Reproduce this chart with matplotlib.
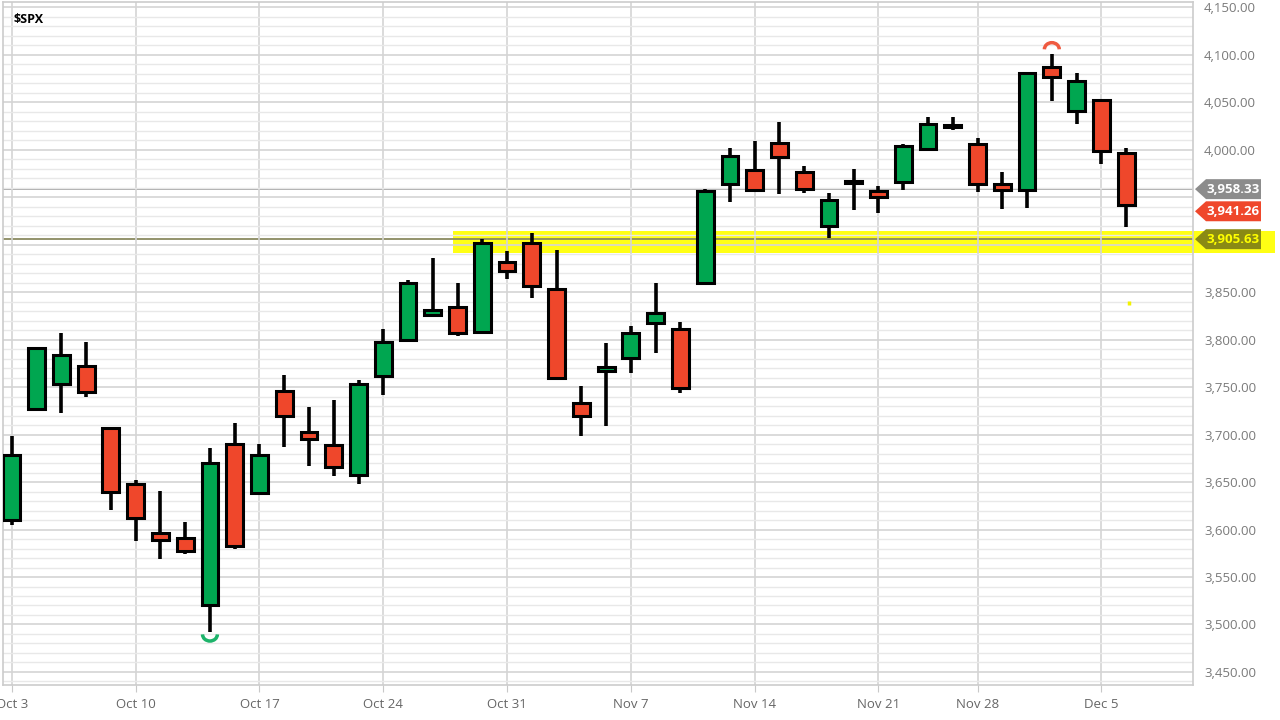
import matplotlib
matplotlib.use("Agg")
import matplotlib.pyplot as plt
import matplotlib.transforms as mtransforms
from matplotlib.patches import Arc, Polygon, Rectangle
from matplotlib.ticker import FuncFormatter, MultipleLocator

plt.rcParams["font.family"] = ["Open Sans", "DejaVu Sans"]

# daily candles, Oct 3 - Dec 6 2022
dates = ["Oct 3", "Oct 4", "Oct 5", "Oct 6", "Oct 7",
         "Oct 10", "Oct 11", "Oct 12", "Oct 13", "Oct 14",
         "Oct 17", "Oct 18", "Oct 19", "Oct 20", "Oct 21",
         "Oct 24", "Oct 25", "Oct 26", "Oct 27", "Oct 28",
         "Oct 31", "Nov 1", "Nov 2", "Nov 3", "Nov 4",
         "Nov 7", "Nov 8", "Nov 9", "Nov 10", "Nov 11",
         "Nov 14", "Nov 15", "Nov 16", "Nov 17", "Nov 18",
         "Nov 21", "Nov 22", "Nov 23", "Nov 25",
         "Nov 28", "Nov 29", "Nov 30", "Dec 1", "Dec 2",
         "Dec 5", "Dec 6"]
opens = [3609.8, 3726.5, 3753.3, 3772.0, 3706.7,
         3647.5, 3595.9, 3590.8, 3520.4, 3690.4,
         3638.7, 3746.3, 3703.1, 3689.1, 3657.1,
         3762.0, 3799.4, 3826.0, 3834.7, 3808.3,
         3881.9, 3901.8, 3852.9, 3733.3, 3767.0,
         3780.7, 3817.0, 3810.9, 3859.9, 3963.7,
         3978.0, 4006.4, 3976.8, 3919.3, 3966.4,
         3956.2, 3965.5, 4000.3, 4023.3,
         4005.4, 3964.2, 3957.2, 4087.1, 4040.2,
         4052.0, 3996.6]
highs = [3698.4, 3791.9, 3806.9, 3797.9, 3706.7,
         3652.2, 3640.7, 3608.3, 3685.4, 3712.0,
         3689.7, 3762.8, 3728.6, 3736.0, 3757.9,
         3810.7, 3862.9, 3886.2, 3860.0, 3905.4,
         3893.7, 3911.8, 3894.4, 3750.6, 3796.3,
         3814.0, 3859.4, 3818.2, 3958.3, 4001.5,
         4009.0, 4028.8, 3983.1, 3954.3, 3979.9,
         3962.0, 4005.9, 4033.8, 4034.0,
         4012.3, 3976.8, 4080.1, 4100.5, 4080.5,
         4052.5, 4001.5]
lows = [3604.9, 3726.5, 3722.7, 3739.2, 3620.7,
        3588.1, 3568.5, 3573.9, 3491.6, 3579.7,
        3638.7, 3686.5, 3666.5, 3656.4, 3647.4,
        3741.7, 3799.4, 3824.1, 3803.8, 3808.3,
        3863.2, 3843.8, 3758.7, 3698.2, 3708.8,
        3764.7, 3786.3, 3744.2, 3859.9, 3944.8,
        3956.4, 3953.2, 3954.3, 3906.5, 3936.0,
        3933.3, 3956.9, 3998.7, 4020.8,
        3955.8, 3937.7, 3938.6, 4050.9, 4026.6,
        3984.5, 3918.4]
closes = [3678.4, 3790.9, 3783.3, 3744.5, 3639.7,
          3612.4, 3588.8, 3577.0, 3669.9, 3583.1,
          3678.0, 3720.0, 3695.2, 3665.8, 3752.8,
          3797.3, 3859.1, 3830.6, 3807.3, 3901.1,
          3872.0, 3856.1, 3759.7, 3719.9, 3770.6,
          3806.8, 3828.1, 3748.6, 3956.4, 3992.9,
          3957.3, 3991.7, 3958.8, 3946.6, 3965.3,
          3949.9, 4003.6, 4027.3, 4026.1,
          3963.9, 3957.6, 4080.1, 4076.6, 4071.7,
          3998.8, 3941.3]

week_labels = ["Oct 3", "Oct 10", "Oct 17", "Oct 24", "Oct 31",
               "Nov 7", "Nov 14", "Nov 21", "Nov 28", "Dec 5"]

prev_high = 3958.33
last_close = 3941.26
support = 3905.63
# tag centres on the price scale (the last-close tag is pushed down a bit)
tag_centres = [prev_high, 3935.0, support]

green = "#00a650"
red = "#ef472b"

fig = plt.figure(figsize=(12.8, 7.2), dpi=100)
ax = fig.add_axes([0.0023, 0.0486, 0.9297, 0.9486])

x = list(range(len(dates)))

# grid
ax.yaxis.set_major_locator(MultipleLocator(50))
ax.yaxis.set_minor_locator(MultipleLocator(10))
ax.grid(which="major", axis="y", color="#d4d4d4", lw=1.2, zorder=0)
ax.grid(which="minor", axis="y", color="#e8e8e8", lw=1.0, zorder=0)
ax.grid(which="major", axis="x", color="#d4d4d4", lw=1.2, zorder=0)

# highlighter band across the support level
fig_y = mtransforms.blended_transform_factory(fig.transFigure, ax.transData)
ax.add_patch(Rectangle((453 / 1280, 3891), (1275 - 453) / 1280, 23,
                       transform=fig_y, facecolor="#ffff00", alpha=0.92,
                       edgecolor="none", zorder=1, clip_on=False))

ax.axhline(prev_high, color="#a0a0a0", lw=1.3, zorder=1.5)
ax.axhline(support, color="#8a8a60", lw=1.3, zorder=1.5)

# candles
ax.vlines(x, lows, highs, color="black", lw=2.6, zorder=2)
for i in x:
    o, c = opens[i], closes[i]
    col = green if c >= o else red
    ax.bar(i, abs(c - o), bottom=min(o, c), width=0.68, color=col,
           edgecolor="black", linewidth=2.2, zorder=3)

# swing markers
lo_i = lows.index(min(lows))
hi_i = highs.index(max(highs))
ax.add_patch(Arc((lo_i, lows[lo_i] - 2), 0.6, 14, theta1=180, theta2=360,
                 color="#1db36a", lw=2.5, zorder=4))
ax.add_patch(Arc((hi_i, highs[hi_i] + 5), 0.6, 14, theta1=0, theta2=180,
                 color="#ef5a40", lw=2.5, zorder=4))
ax.plot([45.1, 45.1], [3836, 3841], color="#f2f200", lw=2.5, zorder=2,
        solid_capstyle="butt")

ax.set_xlim(-0.36, 47.7)
ax.set_ylim(3436.3, 4155.3)

ax.set_xticks([dates.index(d) for d in week_labels])
ax.set_xticklabels(week_labels)
ax.tick_params(axis="x", length=5, color="#c8c8c8", labelsize=9.5,
               labelcolor="#666666", pad=4)


def price_fmt(v, p):
    # scale labels hidden behind the price tags
    if any(abs(v - t) < 14 for t in tag_centres):
        return ""
    return f"{v:,.2f}"


ax.yaxis.tick_right()
ax.yaxis.set_major_formatter(FuncFormatter(price_fmt))
ax.tick_params(axis="y", which="both", length=0, labelsize=9.5,
               labelcolor="#7a7a7a", pad=8)

for s in ax.spines.values():
    s.set_color("#cccccc")
    s.set_linewidth(1.2)

ax.text(0.009, 0.975, "$SPX", transform=ax.transAxes, fontsize=9,
        fontweight="bold", color="black", va="center", ha="left")


# price tags on the right axis
def tag(center, value, face, txtcol):
    h = 10.5
    x0, x1, x2 = 1195 / 1280, 1206 / 1280, 1261 / 1280
    pts = [(x0, center), (x1, center + h), (x2, center + h),
           (x2, center - h), (x1, center - h)]
    ax.add_patch(Polygon(pts, closed=True, transform=fig_y, facecolor=face,
                         edgecolor="none", zorder=5, clip_on=False))
    ax.text(1233 / 1280, center, f"{value:,.2f}", transform=fig_y,
            ha="center", va="center", fontsize=9.5, fontweight="bold",
            color=txtcol, zorder=6, clip_on=False)


tag(tag_centres[0], prev_high, "#8c8c8c", "white")
tag(tag_centres[1], last_close, red, "white")
tag(tag_centres[2], support, "#8a8a14", "#ffff00")

fig.savefig("out.png", dpi=100)
